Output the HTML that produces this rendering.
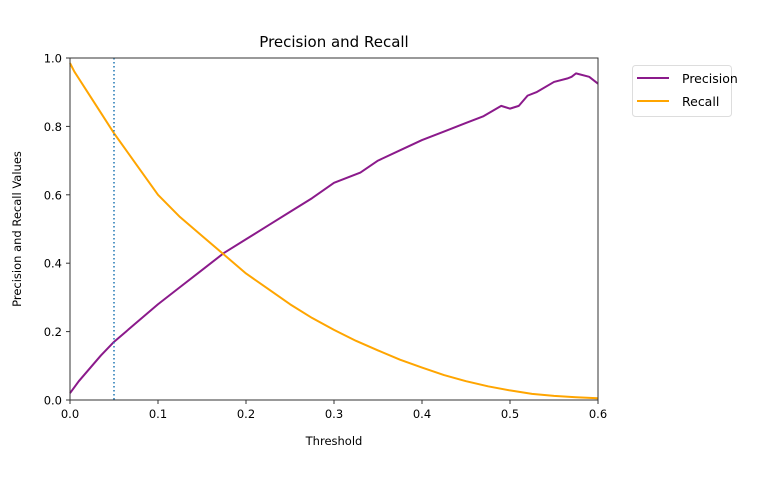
<!DOCTYPE html>
<html><head><meta charset="utf-8"><style>
body{margin:0;background:#fff;}
svg{font-family:"DejaVu Sans","Liberation Sans",sans-serif;}
</style></head><body>
<svg id="c" width="768" height="480">
<text x="334" y="47" font-size="15" text-anchor="middle">Precision and Recall</text>
<text x="334" y="445" font-size="11.5" text-anchor="middle">Threshold</text>
<text transform="translate(21,229) rotate(-90)" font-size="11.5" text-anchor="middle">Precision and Recall Values</text>
<g id="ticks"></g>
<g id="marks"></g>
<rect x="70" y="58" width="528" height="342" fill="none" stroke="#333" stroke-width="1"/>
<g>
<rect x="632.5" y="65.5" width="99" height="51" rx="3" fill="#fff" stroke="#ddd"/>
<line x1="637" y1="78" x2="669" y2="78" stroke="#8b1a8b" stroke-width="2"/>
<text x="682" y="83" font-size="12.5">Precision</text>
<line x1="637" y1="101" x2="669" y2="101" stroke="#ffa500" stroke-width="2"/>
<text x="682" y="106" font-size="12.5">Recall</text>
</g>
</svg>
<script>
const xTicks=[0,0.1,0.2,0.3,0.4,0.5,0.6];
const yTicks=[0,0.2,0.4,0.6,0.8,1.0];
const precX=[0,0.01,0.02,0.035,0.05,0.075,0.1,0.125,0.15,0.175,0.2,0.225,0.25,0.275,0.3,0.33,0.35,0.375,0.4,0.425,0.45,0.47,0.48,0.49,0.5,0.51,0.515,0.52,0.53,0.55,0.565,0.57,0.575,0.59,0.6];
const precY=[0.02,0.055,0.085,0.13,0.17,0.225,0.28,0.33,0.38,0.43,0.47,0.51,0.55,0.59,0.635,0.665,0.70,0.73,0.76,0.785,0.81,0.83,0.845,0.86,0.852,0.86,0.875,0.89,0.90,0.93,0.94,0.945,0.955,0.945,0.925];
const recX=[0,0.005,0.01,0.02,0.035,0.05,0.075,0.1,0.125,0.15,0.175,0.2,0.225,0.25,0.275,0.3,0.325,0.35,0.375,0.4,0.425,0.45,0.475,0.5,0.525,0.55,0.575,0.6];
const recY=[0.985,0.96,0.94,0.90,0.84,0.78,0.69,0.60,0.535,0.48,0.425,0.37,0.325,0.28,0.24,0.205,0.173,0.145,0.118,0.095,0.073,0.055,0.04,0.028,0.018,0.012,0.008,0.005];
const cutoff=0.05;
const NS="http://www.w3.org/2000/svg";
const sx=v=>70+v/0.6*528, sy=v=>400-v*342;
const tk=document.getElementById('ticks'), mk=document.getElementById('marks');
xTicks.forEach(t=>{
 const l=document.createElementNS(NS,'line');
 l.setAttribute('x1',sx(t));l.setAttribute('x2',sx(t));l.setAttribute('y1',400);l.setAttribute('y2',404);l.setAttribute('stroke','#333');
 
 
 tk.appendChild(l);
 const tx=document.createElementNS(NS,'text');
 tx.setAttribute('x',sx(t));tx.setAttribute('y',418);tx.setAttribute('font-size','11.5');tx.setAttribute('text-anchor','middle');tx.textContent=t.toFixed(1);
 
 
 tk.appendChild(tx);
});
yTicks.forEach(t=>{
 const l=document.createElementNS(NS,'line');
 l.setAttribute('x1',66);l.setAttribute('x2',70);l.setAttribute('y1',sy(t));l.setAttribute('y2',sy(t));l.setAttribute('stroke','#333');
 
 
 tk.appendChild(l);
 const tx=document.createElementNS(NS,'text');
 tx.setAttribute('x',62);tx.setAttribute('y',sy(t)+4.5);tx.setAttribute('font-size','11.5');tx.setAttribute('text-anchor','end');tx.textContent=t.toFixed(1);
 
 
 tk.appendChild(tx);
});
function line(xs,ys,color,name){
 const p=document.createElementNS(NS,'polyline');
 p.setAttribute('points',xs.map((x,i)=>sx(x)+','+sy(ys[i])).join(' '));
 p.setAttribute('fill','none');p.setAttribute('stroke',color);p.setAttribute('stroke-width','2');p.setAttribute('stroke-linejoin','round');
 
 
 mk.appendChild(p);
}
line(precX,precY,'#8b1a8b','precision-line');
line(recX,recY,'#ffa500','recall-line');
const v=document.createElementNS(NS,'line');
v.setAttribute('x1',sx(cutoff));v.setAttribute('x2',sx(cutoff));v.setAttribute('y1',58);v.setAttribute('y2',400);
v.setAttribute('stroke','#1f77b4');v.setAttribute('stroke-width','1.5');v.setAttribute('stroke-dasharray','1.5,2.5');


mk.appendChild(v);
</script>
</body></html>
